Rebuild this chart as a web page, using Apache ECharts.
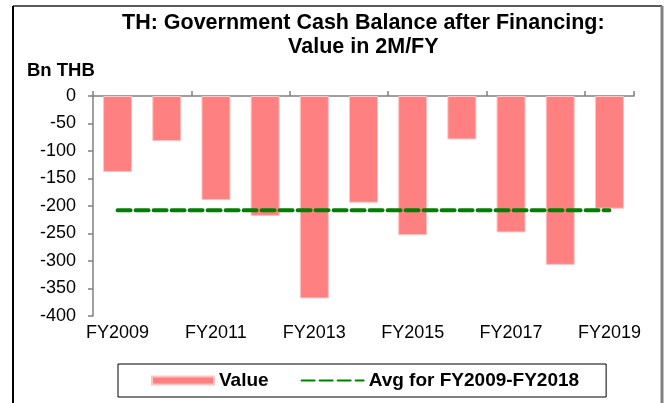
<!DOCTYPE html>
<html>
<head>
<meta charset="utf-8">
<script src="https://cdn.jsdelivr.net/npm/echarts@6/dist/echarts.min.js"></script>
<style>
  html, body { margin: 0; padding: 0; background: #fff; }
  #chart { width: 669px; height: 403px; }
</style>
</head>
<body>
<div id="chart"></div>
<script>
const categories = ['FY2009', 'FY2010', 'FY2011', 'FY2012', 'FY2013', 'FY2014',
  'FY2015', 'FY2016', 'FY2017', 'FY2018', 'FY2019']
const values = [-138, -82, -189, -218, -368, -194, -253, -79, -248, -307, -205]
const avgValues = [-207.6, -207.6, -207.6, -207.6, -207.6, -207.6,
  -207.6, -207.6, -207.6, -207.6, -207.6]
const yTicks = { min: -400, max: 0, interval: 50 }

const font = 'Liberation Sans, Arial, sans-serif'
const myChart = echarts.init(document.getElementById('chart'))

myChart.setOption({
  animation: false,
  textStyle: { fontFamily: font },
  grid: { left: 93, right: 35, top: 96, bottom: 87, containLabel: false },
  graphic: [
    // outer frame
    { type: 'line', shape: { x1: 13, y1: 6, x2: 13, y2: 410 }, style: { stroke: '#000', lineWidth: 2 } },
    { type: 'line', shape: { x1: 13, y1: 6, x2: 662, y2: 6 }, style: { stroke: '#222', lineWidth: 1.5 } },
    { type: 'line', shape: { x1: 662, y1: 6, x2: 662, y2: 410 }, style: { stroke: '#808080', lineWidth: 3 } },
    {
      type: 'text', left: 122, top: 11,
      style: {
        text: 'TH: Government Cash Balance after Financing:\nValue in 2M/FY',
        textAlign: 'center',
        font: 'bold 21.5px ' + font, lineHeight: 24, fill: '#000'
      }
    },
    {
      type: 'text', left: 27, top: 61,
      style: { text: 'Bn THB', font: 'bold 18.5px ' + font, fill: '#000' }
    }
  ],
  legend: {
    left: 118,
    top: 364,
    padding: [7, 27, 7, 33],
    borderColor: '#000',
    borderWidth: 1,
    itemWidth: 62,
    itemHeight: 8,
    itemGap: 32,
    textStyle: { fontSize: 19, fontWeight: 'bold', color: '#000', fontFamily: font },
    data: [
      { name: 'Value', icon: 'rect' },
      { name: 'Avg for FY2009-FY2018', itemStyle: { opacity: 0, color: 'rgba(0,0,0,0)' } }
    ]
  },
  xAxis: [
    {
      type: 'category',
      position: 'top',
      data: categories,
      axisLine: { onZero: false, lineStyle: { color: '#808080', width: 1.5 } },
      axisTick: { show: true, length: 5, lineStyle: { color: '#808080', width: 1.5 } },
      axisLabel: { show: false },
      splitLine: { show: false }
    },
    {
      type: 'category',
      position: 'bottom',
      data: categories,
      axisLine: { show: false, onZero: false },
      axisTick: { show: false },
      axisLabel: { interval: 1, fontSize: 18, color: '#000', margin: 8, fontFamily: font },
      splitLine: { show: false }
    }
  ],
  yAxis: {
    type: 'value',
    min: yTicks.min,
    max: yTicks.max,
    interval: yTicks.interval,
    axisLine: { show: true, lineStyle: { color: '#808080', width: 1.5 } },
    axisTick: { show: true, length: 5, lineStyle: { color: '#808080', width: 1.5 } },
    axisLabel: { fontSize: 18, color: '#000', margin: 17, fontFamily: font },
    splitLine: { show: false }
  },
  series: [
    {
      name: 'Value',
      type: 'bar',
      xAxisIndex: 0,
      barWidth: 29,
      itemStyle: { color: '#ff8080', borderColor: '#ffc4c4', borderWidth: 1 },
      data: values
    },
    {
      name: 'Avg for FY2009-FY2018',
      type: 'line',
      xAxisIndex: 0,
      symbol: 'none',
      lineStyle: { color: '#008000', width: 4, type: [13, 5], cap: 'round' },
      itemStyle: { color: '#008000' },
      data: avgValues
    }
  ]
})
window.addEventListener('resize', () => {
  myChart.resize()
})
</script>
</body>
</html>
